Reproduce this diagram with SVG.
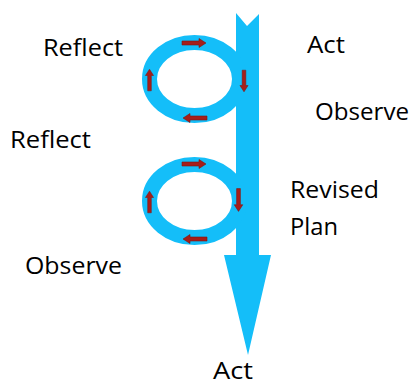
<svg xmlns="http://www.w3.org/2000/svg" width="414" height="386" viewBox="0 0 414 386">
  <defs>
    <style>
      .lbl { font-family: "Open Sans", "Liberation Sans", sans-serif; font-size: 24px; fill: #000; }
      .ring { fill: none; stroke: #14BEF9; stroke-width: 15; }
      .flow { fill: #14BEF9; }
      .cyc { fill: #A61E1A; stroke: #7E1512; stroke-width: 0.6; }
    </style>
    <polygon id="rarrow" points="-12,-2 5,-2 5,-4.5 12,0 5,4.5 5,2 -12,2"/>
  </defs>

  <g id="main-arrow">
    <polygon class="flow" points="236,13 247,26 259,14 259,255 271,255 248,355 224,255 236,255"/>
  </g>

  <g id="loop-upper">
    <ellipse class="ring" cx="194.5" cy="79" rx="45" ry="36.5"/>
  </g>

  <g id="loop-lower">
    <ellipse class="ring" cx="194.5" cy="201" rx="45" ry="36.5"/>
  </g>

  <g id="connectors">
    <use href="#rarrow" class="cyc" transform="translate(194,43)"/>
    <use href="#rarrow" class="cyc" transform="translate(244,81) rotate(90) scale(0.9)"/>
    <use href="#rarrow" class="cyc" transform="translate(195,118) rotate(180)"/>
    <use href="#rarrow" class="cyc" transform="translate(149.5,80) rotate(-90) scale(0.9)"/>

    <use href="#rarrow" class="cyc" transform="translate(194,164)"/>
    <use href="#rarrow" class="cyc" transform="translate(238.5,200) rotate(90) scale(0.95)"/>
    <use href="#rarrow" class="cyc" transform="translate(195,239) rotate(180)"/>
    <use href="#rarrow" class="cyc" transform="translate(149.5,202) rotate(-90) scale(0.9)"/>
  </g>

  <g id="label-reflect-1"><text class="lbl" x="43" y="56" textLength="80" lengthAdjust="spacingAndGlyphs">Reflect</text></g>
  <g id="label-act-1"><text class="lbl" x="307" y="53" textLength="38" lengthAdjust="spacingAndGlyphs">Act</text></g>
  <g id="label-observe-1"><text class="lbl" x="315" y="120" textLength="94" lengthAdjust="spacingAndGlyphs">Observe</text></g>
  <g id="label-reflect-2"><text class="lbl" x="10" y="148" textLength="81" lengthAdjust="spacingAndGlyphs">Reflect</text></g>
  <g id="label-revised-plan">
    <text class="lbl" x="290" y="198" textLength="89" lengthAdjust="spacingAndGlyphs">Revised</text>
    <text class="lbl" x="290" y="235" textLength="48" lengthAdjust="spacingAndGlyphs">Plan</text>
  </g>
  <g id="label-observe-2"><text class="lbl" x="25" y="274" textLength="97" lengthAdjust="spacingAndGlyphs">Observe</text></g>
  <g id="label-act-2"><text class="lbl" x="213" y="379" textLength="40" lengthAdjust="spacingAndGlyphs">Act</text></g>
</svg>
